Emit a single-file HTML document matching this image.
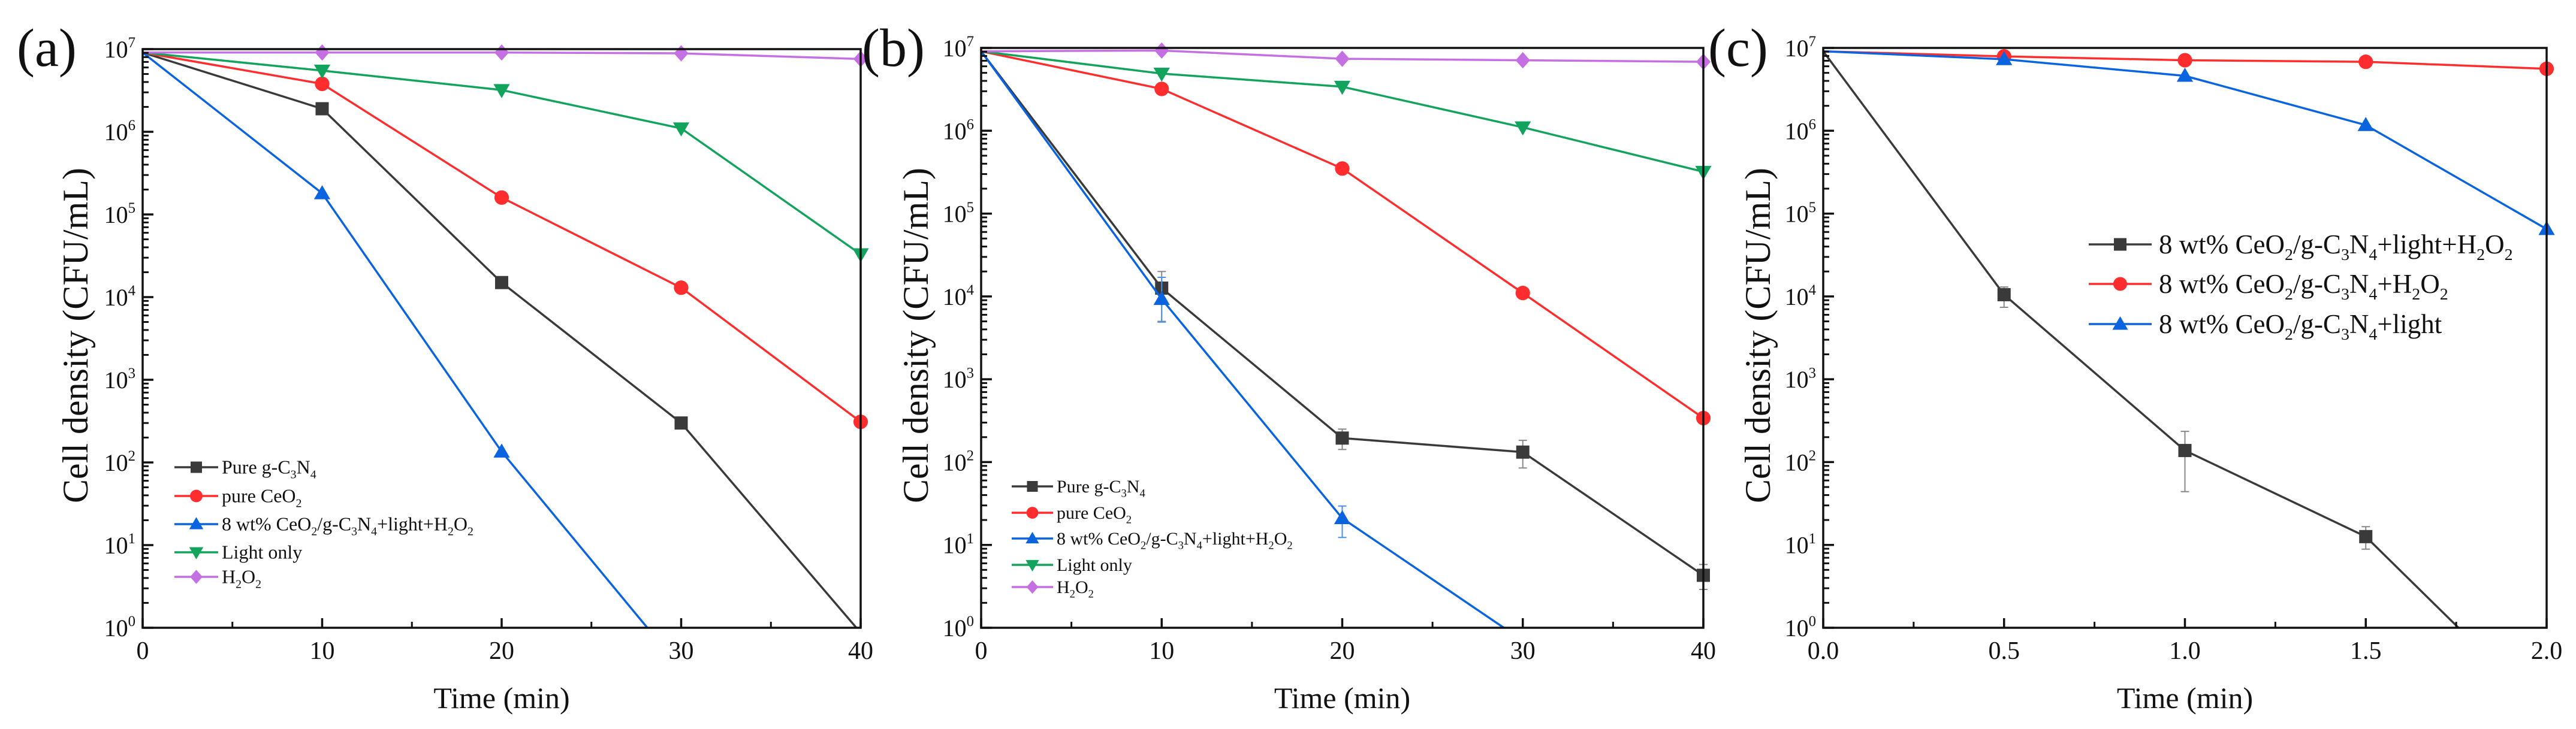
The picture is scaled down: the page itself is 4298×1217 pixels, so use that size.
<!DOCTYPE html>
<html><head><meta charset="utf-8">
<style>
html,body{margin:0;padding:0;background:#fff;}
svg{display:block;font-family:"Liberation Serif",serif;}
</style></head>
<body>
<svg id="fig" width="4298" height="1217" viewBox="0 0 4298 1217" xmlns="http://www.w3.org/2000/svg"></svg>
<script>
// ---- Panel (a) data ----
const aTimes = [0, 10, 20, 30, 40];
const aPureCN = [9.1e6, 1.9e6, 1.5e4, 300, 0.87];
const aPureCeO2 = [9.1e6, 3.8e6, 1.6e5, 1.3e4, 310];
const aCompTimes = [0, 10, 20, 30];
const aComposite = [9.1e6, 1.8e5, 135, 0.32];
const aLight = [9.1e6, 5.5e6, 3.2e6, 1.1e6, 3.3e4];
const aH2O2 = [9.1e6, 9.1e6, 9.1e6, 8.9e6, 7.6e6];
// ---- Panel (b) data ----
const bTimes = [0, 10, 20, 30, 40];
const bPureCN = [9.1e6, 1.26e4, 195, 132, 4.3];
const bPureCNLo = [null, 5.0e3, 142, 85, 2.9];
const bPureCNHi = [null, 2.0e4, 250, 183, 5.8];
const bCompTimes = [0, 10, 20, 30];
const bComposite = [9.1e6, 9.3e3, 21, 0.7];
const bCompLo = [null, 4.9e3, 12.3, null];
const bCompHi = [null, 1.7e4, 29.5, null];
const bPureCeO2 = [9.1e6, 3.2e6, 3.5e5, 1.1e4, 340];
const bLight = [9.1e6, 4.9e6, 3.4e6, 1.1e6, 3.2e5];
const bH2O2 = [9.1e6, 9.3e6, 7.4e6, 7.1e6, 6.8e6];
// ---- Panel (c) data ----
const cTimes = [0, 0.5, 1.0, 1.5, 2.0];
const cAll = [9.1e6, 1.05e4, 138, 12.6, 0.09];
const cAllLo = [null, 7.4e3, 44, 8.9, null];
const cAllHi = [null, 1.3e4, 235, 16.6, null];
const cNoLight = [9.1e6, 7.9e6, 7.1e6, 6.8e6, 5.6e6];
const cNoH2O2 = [9.1e6, 7.3e6, 4.6e6, 1.17e6, 6.5e4];
// ---- ticks ----
const yDecades = [0, 1, 2, 3, 4, 5, 6, 7];
const abXTicks = [0, 10, 20, 30, 40];
const abXMinor = [5, 15, 25, 35];
const cXTicks = [0.0, 0.5, 1.0, 1.5, 2.0];
const cXTickLabels = ["0.0", "0.5", "1.0", "1.5", "2.0"];
const cXMinor = [0.25, 0.75, 1.25, 1.75];

const NS = "http://www.w3.org/2000/svg";
const svg = document.getElementById("fig");
const COL = {black:"#3a3a3a", red:"#ff2d2d", blue:"#0a64e0", green:"#12a35c", purple:"#c46fe2"};

function el(tag, attrs, parent) {
  const e = document.createElementNS(NS, tag);
  for (const k in attrs) e.setAttribute(k, attrs[k]);
  (parent || svg).appendChild(e);
  return e;
}
function richText(t, str, fs) {
  const parts = str.split(/([_^]\d)/);
  let pendingDy = 0;
  for (const p of parts) {
    if (!p) continue;
    const ts = document.createElementNS(NS, "tspan");
    if (p[0] === "_") { ts.setAttribute("font-size", fs*0.62); ts.setAttribute("dy", pendingDy + fs*0.25); pendingDy = -fs*0.25; ts.textContent = p[1]; t.appendChild(ts); continue; }
    if (p[0] === "^") { ts.setAttribute("font-size", fs*0.62); ts.setAttribute("dy", pendingDy - fs*0.42); pendingDy = fs*0.42; ts.textContent = p[1]; t.appendChild(ts); continue; }
    if (pendingDy) ts.setAttribute("dy", pendingDy);
    pendingDy = 0;
    ts.textContent = p; t.appendChild(ts);
  }
}
function marker(g, type, x, y, color, s) {
  let m;
  if (type === "square") m = el("rect", {x:x-s/2, y:y-s/2, width:s, height:s, fill:color}, g);
  else if (type === "circle") m = el("circle", {cx:x, cy:y, r:s*0.55, fill:color}, g);
  else if (type === "up") m = el("polygon", {points:`${x},${y-s*0.62} ${x-s*0.62},${y+s*0.45} ${x+s*0.62},${y+s*0.45}`, fill:color}, g);
  else if (type === "down") m = el("polygon", {points:`${x},${y+s*0.62} ${x-s*0.62},${y-s*0.45} ${x+s*0.62},${y-s*0.45}`, fill:color}, g);
  else m = el("polygon", {points:`${x},${y-s*0.62} ${x+s*0.55},${y} ${x},${y+s*0.62} ${x-s*0.55},${y}`, fill:color}, g);
  return m;
}

function panel(cfg) {
  const {id, x0, x1, y0, y1, xmax, label, labelX, titleX} = cfg;
  const g = el("g", {});
  
  
  const sx = v => x0 + (v / xmax) * (x1 - x0);
  const sy = v => y1 - (Math.log10(v) / 7) * (y1 - y0);
  const clipId = "clip-" + id;
  const cp = el("clipPath", {id: clipId}, g);
  el("rect", {x:x0, y:y0-14, width:x1-x0+14, height:y1-y0+14}, cp);
  const sg = el("g", {"clip-path": `url(#${clipId})`}, g);
  for (const s of cfg.series) {
    const sgg = el("g", {}, sg);
    
    
    const pts = s.x.map((t, i) => `${sx(t)},${sy(s.y[i])}`).join(" ");
    const ln = el("polyline", {points:pts, fill:"none", stroke:s.color, "stroke-width":3.5, "stroke-linejoin":"round"}, sgg);
    
    
    if (s.lo) s.x.forEach((t, i) => {
      if (s.lo[i] == null) return;
      const X = sx(t), a = sy(s.lo[i]), b = sy(s.hi[i]);
      const eb = el("path", {d:`M${X},${a}V${b}M${X-7},${a}H${X+7}M${X-7},${b}H${X+7}`, stroke:s.ecolor, "stroke-width":2, fill:"none"}, sgg);
      
      
    });
    s.x.forEach((t, i) => {
      if (i === 0) return;
      const v = s.y[i];
      if (Math.log10(v) < 0) return;
      const m = marker(sgg, s.marker, sx(t), sy(v), s.color, 22);
      
      
    });
  }
  const fr = el("rect", {x:x0, y:y0, width:x1-x0, height:y1-y0, fill:"none", stroke:"#111", "stroke-width":3.5}, g);
  
  
  const yt = el("g", {}, g);
  
  
  for (const d of yDecades) {
    const Y = sy(Math.pow(10, d));
    el("line", {x1:x0, x2:x0+18, y1:Y, y2:Y, stroke:"#111", "stroke-width":3.5}, yt);
    if (d < 7) for (let k = 2; k <= 9; k++) {
      const Ym = sy(k * Math.pow(10, d));
      el("line", {x1:x0, x2:x0+10, y1:Ym, y2:Ym, stroke:"#111", "stroke-width":3}, yt);
    }
    const t = el("text", {x:x0-12, y:Y+14, "text-anchor":"end", "font-size":40, fill:"#111"}, yt);
    
    
    richText(t, "10^" + d, 40);
  }
  const xt = el("g", {}, g);
  
  
  cfg.xticks.forEach((v, i) => {
    const X = sx(v);
    el("line", {x1:X, x2:X, y1:y1, y2:y1-16, stroke:"#111", "stroke-width":3.5}, xt);
    const t = el("text", {x:X, y:y1+52, "text-anchor":"middle", "font-size":42, fill:"#111"}, xt);
    
    
    t.textContent = cfg.xlabels[i];
  });
  cfg.xminor.forEach(v => {
    const X = sx(v);
    el("line", {x1:X, x2:X, y1:y1, y2:y1-10, stroke:"#111", "stroke-width":3}, xt);
  });
  const xtit = el("text", {x:(x0+x1)/2, y:1182, "text-anchor":"middle", "font-size":50, fill:"#111"}, g);
  
  
  xtit.textContent = "Time (min)";
  const ytit = el("text", {x:0, y:0, "text-anchor":"middle", "font-size":60, fill:"#111", transform:`translate(${titleX},560) rotate(-90)`}, g);
  
  
  ytit.textContent = "Cell density (CFU/mL)";
  const pl = el("text", {x:labelX, y:110, "font-size":90, fill:"#111"}, g);
  
  
  pl.textContent = label;
  const lg = el("g", {}, g);
  
  
  const L = cfg.legend;
  cfg.series.forEach((s, i) => {
    const Y = L.rows[i];
    const eg = el("g", {}, lg);
    
    
    el("line", {x1:L.x0, x2:L.x1, y1:Y, y2:Y, stroke:s.color, "stroke-width":3.5}, eg);
    marker(eg, s.marker, (L.x0+L.x1)/2, Y, s.color, L.ms);
    const t = el("text", {x:L.tx, y:Y + L.fs*0.33, "font-size":L.fs, fill:"#111"}, eg);
    richText(t, s.label, L.fs);
  });
}

panel({id:"a", x0:238, x1:1436, y0:82, y1:1048, xmax:40, label:"(a)", labelX:28, titleX:146,
  xticks:abXTicks, xlabels:abXTicks.map(String), xminor:abXMinor,
  legend:{x0:291, x1:364, tx:370, fs:32, ms:19, rows:[780,828,875,922,963]},
  series:[
    {name:"pure-g-c3n4", label:"Pure g-C_3N_4", color:COL.black, marker:"square", x:aTimes, y:aPureCN},
    {name:"pure-ceo2", label:"pure CeO_2", color:COL.red, marker:"circle", x:aTimes, y:aPureCeO2},
    {name:"composite-light-h2o2", label:"8 wt% CeO_2/g-C_3N_4+light+H_2O_2", color:COL.blue, marker:"up", x:aCompTimes, y:aComposite},
    {name:"light-only", label:"Light only", color:COL.green, marker:"down", x:aTimes, y:aLight},
    {name:"h2o2", label:"H_2O_2", color:COL.purple, marker:"diamond", x:aTimes, y:aH2O2}
  ]});

panel({id:"b", x0:1637, x1:2842, y0:80, y1:1048, xmax:40, label:"(b)", labelX:1438, titleX:1548,
  xticks:abXTicks, xlabels:abXTicks.map(String), xminor:abXMinor,
  legend:{x0:1688, x1:1757, tx:1763, fs:30, ms:18, rows:[812,856,899,943,980]},
  series:[
    {name:"pure-g-c3n4", label:"Pure g-C_3N_4", color:COL.black, marker:"square", x:bTimes, y:bPureCN, lo:bPureCNLo, hi:bPureCNHi, ecolor:"#888"},
    {name:"pure-ceo2", label:"pure CeO_2", color:COL.red, marker:"circle", x:bTimes, y:bPureCeO2},
    {name:"composite-light-h2o2", label:"8 wt% CeO_2/g-C_3N_4+light+H_2O_2", color:COL.blue, marker:"up", x:bCompTimes, y:bComposite, lo:bCompLo, hi:bCompHi, ecolor:"#4a90e8"},
    {name:"light-only", label:"Light only", color:COL.green, marker:"down", x:bTimes, y:bLight},
    {name:"h2o2", label:"H_2O_2", color:COL.purple, marker:"diamond", x:bTimes, y:bH2O2}
  ]});

panel({id:"c", x0:3042, x1:4249, y0:80, y1:1048, xmax:2, label:"(c)", labelX:2850, titleX:2953,
  xticks:cXTicks, xlabels:cXTickLabels, xminor:cXMinor,
  legend:{x0:3485, x1:3590, tx:3602, fs:45, ms:21, rows:[408,474,541]},
  series:[
    {name:"composite-light-h2o2", label:"8 wt% CeO_2/g-C_3N_4+light+H_2O_2", color:COL.black, marker:"square", x:cTimes, y:cAll, lo:cAllLo, hi:cAllHi, ecolor:"#888"},
    {name:"composite-h2o2", label:"8 wt% CeO_2/g-C_3N_4+H_2O_2", color:COL.red, marker:"circle", x:cTimes, y:cNoLight},
    {name:"composite-light", label:"8 wt% CeO_2/g-C_3N_4+light", color:COL.blue, marker:"up", x:cTimes, y:cNoH2O2}
  ]});
</script>
</body></html>
